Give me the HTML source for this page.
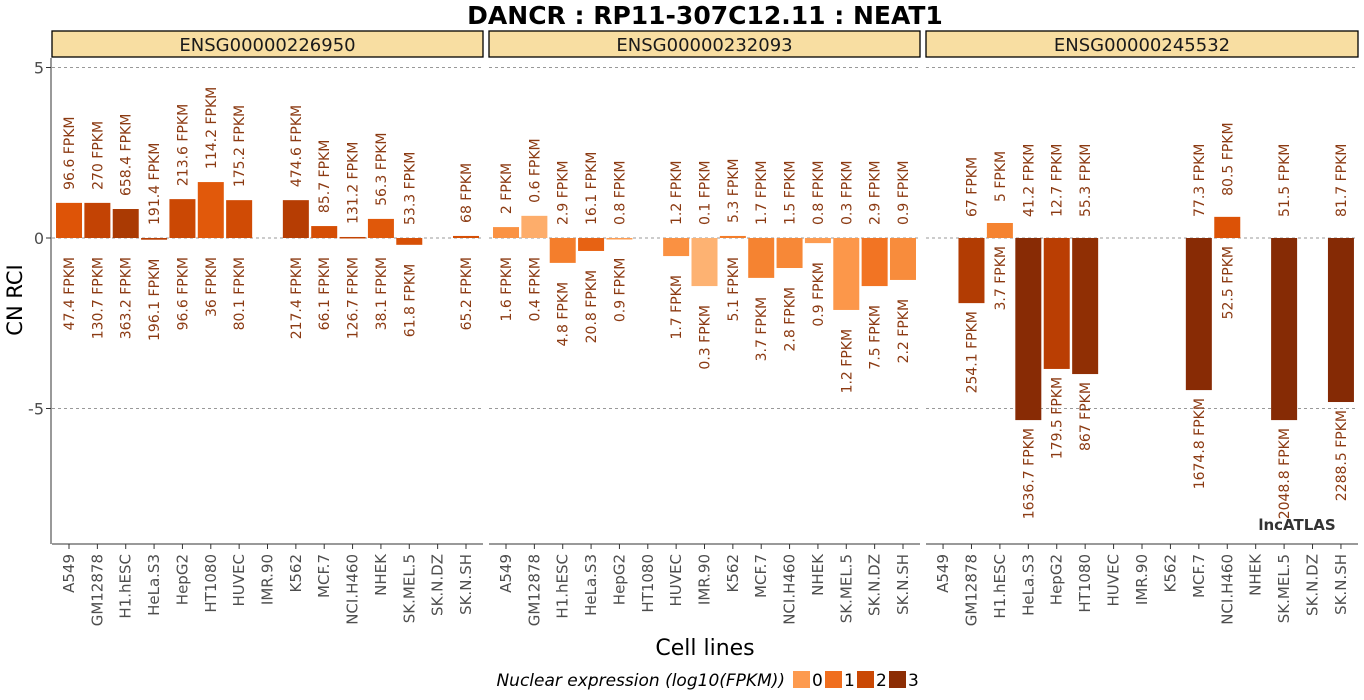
<!DOCTYPE html>
<html><head><meta charset="utf-8"><style>
body{margin:0;background:#fff;}
svg{display:block;font-family:"Liberation Sans","DejaVu Sans",sans-serif;}
</style></head><body>
<svg id="chart" width="1364" height="700" viewBox="0 0 1364 700" xmlns="http://www.w3.org/2000/svg">
<text x="705" y="24" text-anchor="middle" font-size="25" font-weight="bold" font-family="DejaVu Sans, sans-serif">DANCR : RP11-307C12.11 : NEAT1</text>
<text transform="translate(22,300) rotate(-90)" text-anchor="middle" font-size="21" font-family="DejaVu Sans, sans-serif">CN RCI</text>
<text x="705" y="655" text-anchor="middle" font-size="22" font-family="DejaVu Sans, sans-serif">Cell lines</text>
<text x="1297" y="530" text-anchor="middle" font-size="15" font-weight="bold" fill="#333" font-family="DejaVu Sans, sans-serif">lncATLAS</text>
<g id="legend" font-family="DejaVu Sans, sans-serif">
<text x="785" y="686" text-anchor="end" font-size="17" font-style="italic">Nuclear expression (log10(FPKM))</text>
</g>
<g id="plot"></g>
</svg>
<script>
const categories=["A549","GM12878","H1.hESC","HeLa.S3","HepG2","HT1080","HUVEC","IMR.90","K562","MCF.7","NCI.H460","NHEK","SK.MEL.5","SK.N.DZ","SK.N.SH"];
const panels=["ENSG00000226950","ENSG00000232093","ENSG00000245532"];
const values1=[1.03,1.03,0.85,-0.05,1.14,1.64,1.11,null,1.11,0.35,0.03,0.56,-0.2,null,0.06];
const values2=[0.32,0.65,-0.73,-0.38,-0.02,null,-0.53,-1.41,0.06,-1.17,-0.88,-0.15,-2.11,-1.41,-1.23];
const values3=[null,-1.91,0.44,-5.34,-3.84,-3.99,null,null,null,-4.46,0.62,null,-5.34,null,-4.81];
const cyto1=["96.6","270","658.4","191.4","213.6","114.2","175.2",null,"474.6","85.7","131.2","56.3","53.3",null,"68"];
const nuc1=["47.4","130.7","363.2","196.1","96.6","36","80.1",null,"217.4","66.1","126.7","38.1","61.8",null,"65.2"];
const cyto2=["2","0.6","2.9","16.1","0.8",null,"1.2","0.1","5.3","1.7","1.5","0.8","0.3","2.9","0.9"];
const nuc2=["1.6","0.4","4.8","20.8","0.9",null,"1.7","0.3","5.1","3.7","2.8","0.9","1.2","7.5","2.2"];
const cyto3=[null,"67","5","41.2","12.7","55.3",null,null,null,"77.3","80.5",null,"51.5",null,"81.7"];
const nuc3=[null,"254.1","3.7","1636.7","179.5","867",null,null,null,"1674.8","52.5",null,"2048.8",null,"2288.5"];
const yTicks=[5,0,-5];
const legendLevels=[0,1,2,3];

const NS="http://www.w3.org/2000/svg";
const svg=document.getElementById('plot');
const panelX=[[52,483],[489,920],[926,1358]];
const Y0=238, PX=34.1, TOP=58, BOT=544;
function yScale(v){return Y0-v*PX;}
const stops=[[-0.5,[253,178,114]],[0,[253,154,78]],[0.6,[245,130,47]],[1,[240,110,30]],[1.7,[221,83,6]],[2.25,[186,62,3]],[2.6,[168,58,3]],[3,[140,45,4]],[3.4,[132,42,5]]];
function colorFor(l){
  if(l<=stops[0][0])return 'rgb('+stops[0][1]+')';
  for(let i=1;i<stops.length;i++){if(l<=stops[i][0]){const a=stops[i-1],b=stops[i];const t=(l-a[0])/(b[0]-a[0]);return 'rgb('+a[1].map((c,k)=>Math.round(c+(b[1][k]-c)*t)).join(',')+')';}}
  return 'rgb('+stops[stops.length-1][1]+')';
}
function mk(tag,attrs,parent){const e=document.createElementNS(NS,tag);for(const k in attrs)e.setAttribute(k,attrs[k]);(parent||svg).appendChild(e);return e;}

const yAxis=mk('line',{x1:51,x2:51,y1:TOP,y2:BOT,stroke:'#333','stroke-width':1});


yTicks.forEach(t=>{
  const tk=mk('line',{x1:46,x2:51,y1:yScale(t),y2:yScale(t),stroke:'#333'});
  
  
  const tl=mk('text',{x:44,y:yScale(t)+6,'text-anchor':'end','font-size':16,fill:'#4d4d4d','font-family':'DejaVu Sans, sans-serif'});
  tl.textContent=t;
  
  
});

const allVals=[values1,values2,values3], allCyto=[cyto1,cyto2,cyto3], allNuc=[nuc1,nuc2,nuc3];
const topOff=[13,13,21], botOff=[19,19,8];
panels.forEach((p,pi)=>{
  const [x0,x1]=panelX[pi]; const w=x1-x0; const step=w/15.2;
  const strip=mk('rect',{x:x0,y:31,width:w,height:26,fill:'#F8DEA2',stroke:'#000','stroke-width':1.3});
  
  
  const st=mk('text',{x:(x0+x1)/2,y:51,'text-anchor':'middle','font-size':18,fill:'#1a1a1a','font-family':'DejaVu Sans, sans-serif'});
  st.textContent=p;
  
  
  yTicks.forEach(t=>{
    const g=mk('line',{x1:x0,x2:x1,y1:yScale(t),y2:yScale(t),stroke:'#999','stroke-dasharray':'3,3','stroke-width':1});
    
    
  });
  const xa=mk('line',{x1:x0,x2:x1,y1:BOT,y2:BOT,stroke:'#333'});
  
  
  categories.forEach((c,i)=>{
    const cx=x0+(i+0.6)*step;
    const tk=mk('line',{x1:cx,x2:cx,y1:BOT,y2:BOT+5,stroke:'#333'});
    
    
    const tl=mk('text',{transform:'translate('+(cx+5)+','+(BOT+10)+') rotate(-90)','text-anchor':'end','font-size':15,fill:'#4d4d4d','font-family':'DejaVu Sans, sans-serif'});
    tl.textContent=c;
    
    
    const v=allVals[pi][i];
    if(v===null)return;
    const lvl=Math.log10(parseFloat(allNuc[pi][i]));
    const yt=Math.min(yScale(v),Y0), yb=Math.max(yScale(v),Y0);
    const bar=mk('rect',{x:cx-13,y:yt,width:26,height:Math.max(yb-yt,1.5),fill:colorFor(lvl)});
    
    
    const t1=mk('text',{transform:'translate('+(cx+5)+','+(yt-topOff[pi])+') rotate(-90)','text-anchor':'start','font-size':14,fill:'#8B3A12','font-family':'DejaVu Sans, sans-serif'});
    t1.textContent=allCyto[pi][i]+' FPKM';
    
    
    const t2=mk('text',{transform:'translate('+(cx+5)+','+(yb+botOff[pi])+') rotate(-90)','text-anchor':'end','font-size':14,fill:'#8B3A12','font-family':'DejaVu Sans, sans-serif'});
    t2.textContent=allNuc[pi][i]+' FPKM';
    
    
  });
});
const leg=document.getElementById('legend');
legendLevels.forEach((l,i)=>{
  const x=793+i*32;
  const r=mk('rect',{x:x,y:671,width:17,height:17,fill:colorFor(l)},leg);
  
  
  const t=mk('text',{x:x+19,y:686,'font-size':17},leg);
  t.textContent=l;
  
  
});
</script>
</body></html>
